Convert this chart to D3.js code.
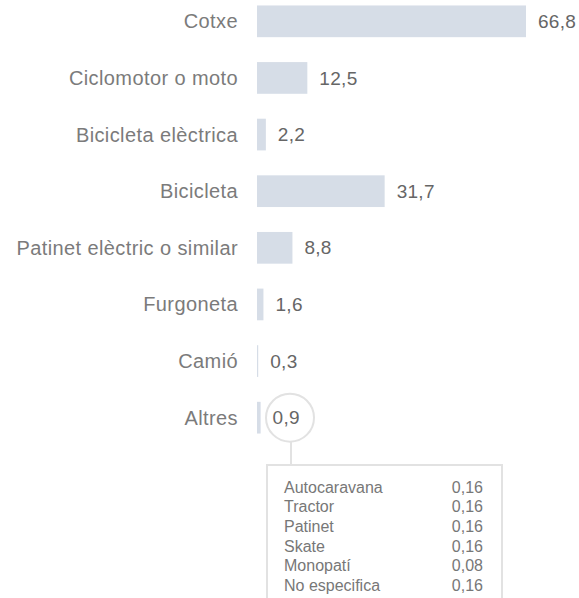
<!DOCTYPE html>
<html><head><meta charset="utf-8">
<script src="https://cdn.jsdelivr.net/npm/d3@7"></script>
<style>body{margin:0;background:#fff;}svg{display:block;font-family:"Liberation Sans",Arial,Helvetica,sans-serif;}</style>
</head><body><svg id="c" width="579" height="598"></svg>
<script>
const categories = ["Cotxe","Ciclomotor o moto","Bicicleta elèctrica","Bicicleta","Patinet elèctric o similar","Furgoneta","Camió","Altres"];
const values = [66.8,12.5,2.2,31.7,8.8,1.6,0.3,0.9];
const otherCategories = ["Autocaravana","Tractor","Patinet","Skate","Monopatí","No especifica"];
const otherValues = [0.16,0.16,0.16,0.16,0.08,0.16];

const svg = d3.select("#c");
const fmt = v => String(v).replace(".", ",");
const x = d3.scaleLinear().domain([0, 66.8]).range([257, 526]);
const y = d3.scaleBand().domain(categories).range([-7, 446]).paddingInner(0.44).paddingOuter(0.22);

const g = svg.append("g");
g.selectAll("rect").data(categories).join("rect")
  .attr("x", x(0)).attr("y", d => y(d))
  .attr("width", (d,i) => Math.max(1, x(values[i]) - x(0)))
  .attr("height", y.bandwidth())
  .attr("fill", "#d6dde7");
g.selectAll("text.lab").data(categories).join("text").attr("class","lab")
  .attr("x", 238).attr("y", d => y(d) + y.bandwidth()/2)
  .attr("dy", "0.35em").attr("text-anchor","end")
  .attr("font-size", 20).attr("letter-spacing", "0.4px").attr("fill", "#7b7b7b").text(d => d);
g.selectAll("text.val").data(categories).join("text").attr("class","val")
  .attr("x", (d,i) => x(values[i]) + 12).attr("y", d => y(d) + y.bandwidth()/2)
  .attr("dy", "0.35em")
  .attr("font-size", 19).attr("letter-spacing", "0.3px").attr("fill", "#666").text((d,i) => fmt(values[i]));

// callout
const ai = categories.length - 1;
const cy = y(categories[ai]) + y.bandwidth()/2;
const cx = 290;
svg.append("circle").attr("cx", cx).attr("cy", cy).attr("r", 24)
  .attr("fill","none").attr("stroke","#e2e2e2").attr("stroke-width",2);
svg.append("line").attr("x1", 291).attr("x2", 291).attr("y1", cy + 24).attr("y2", 465)
  .attr("stroke","#e2e2e2").attr("stroke-width",2);
svg.append("rect").attr("x", 267).attr("y", 465).attr("width", 235).attr("height", 150)
  .attr("fill","#fff").attr("stroke","#e2e2e2").attr("stroke-width",2);
const rowY = d3.scaleBand().domain(otherCategories).range([477.5, 595]);
const bg = svg.append("g");
bg.selectAll("text.ol").data(otherCategories).join("text")
  .attr("x", 284).attr("y", d => rowY(d) + rowY.bandwidth()/2).attr("dy","0.35em")
  .attr("font-size", 16).attr("fill","#777").text(d => d);
bg.selectAll("text.ov").data(otherCategories).join("text")
  .attr("x", 483).attr("y", d => rowY(d) + rowY.bandwidth()/2).attr("dy","0.35em")
  .attr("text-anchor","end")
  .attr("font-size", 16).attr("fill","#777").text((d,i) => fmt(otherValues[i]));
</script></body></html>
